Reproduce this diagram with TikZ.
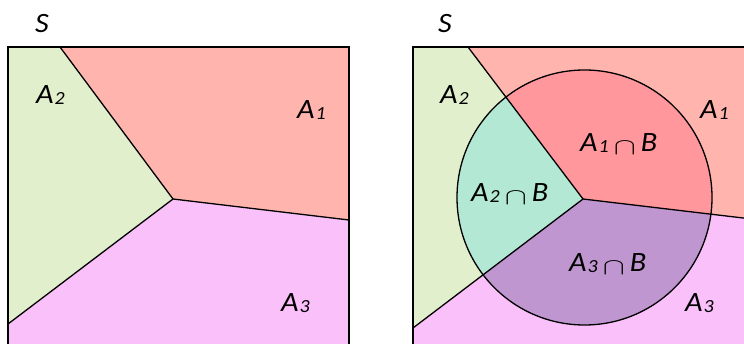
\documentclass[tikz,border=0pt]{standalone}
\usepackage{fontspec}
\setmainfont{Carlito}[FakeStretch=1.08]
\definecolor{cAone}{HTML}{FFB5AE}
\definecolor{cAtwo}{HTML}{E2EFCC}
\definecolor{cAthree}{HTML}{FAC0FA}
\definecolor{cBone}{HTML}{FF979D}
\definecolor{cBtwo}{HTML}{B3E8D5}
\definecolor{cBthree}{HTML}{BF96CF}
\newcommand{\Aset}[1]{A\kern1pt\raisebox{-1pt}{\fontsize{18.5}{20}\selectfont #1}}
\newcommand{\capB}{\kern5pt\raisebox{-3pt}{\resizebox{22pt}{13pt}{$\cap$}}\kern5pt B}
\begin{document}
\begin{tikzpicture}[x=1pt,y=-1pt,
  lbl/.style={anchor=base west,inner sep=0pt,font=\fontsize{28}{32}\selectfont\itshape},
  edge/.style={draw=black,line width=1.3pt,line join=round},
  frame/.style={draw=black,line width=1.7pt}]
\useasboundingbox (0,0) rectangle (744,344);
\clip (0,0) rectangle (744,344);
% ---------- left panel ----------
\coordinate (lt) at (60,47);
\coordinate (lc) at (173,199);
\coordinate (lr) at (349,220);
\coordinate (ll) at (8,324);
\fill[cAone] (lt) -- (349,47) -- (lr) -- (lc) -- cycle;
\fill[cAtwo] (8,47) -- (lt) -- (lc) -- (ll) -- cycle;
\fill[cAthree] (ll) -- (lc) -- (lr) -- (349,360) -- (8,360) -- cycle;
\draw[edge] (lt) -- (lc) -- (lr);
\draw[edge] (lc) -- (ll);
\draw[frame] (8,360) -- (8,47) -- (349,47) -- (349,360);
\node[lbl] (lS) at (35,33) {S};
\node[lbl] (lA2) at (36,104) {\Aset{2}};
\node[lbl] (lA1) at (297,119) {\Aset{1}};
\node[lbl] (lA3) at (281,312) {\Aset{3}};
% ---------- right panel ----------
\coordinate (rt) at (468,47);
\coordinate (rc) at (583,199);
\coordinate (rr) at (760,220);
\coordinate (rl) at (413,328);
\coordinate (bc) at (584.5,197.5);
\fill[cAone] (rt) -- (760,47) -- (rr) -- (rc) -- cycle;
\fill[cAtwo] (413,47) -- (rt) -- (rc) -- (rl) -- cycle;
\fill[cAthree] (rl) -- (rc) -- (rr) -- (760,360) -- (413,360) -- cycle;
\begin{scope}
  \clip (bc) circle[radius=127.5];
  \fill[cBone] (rt) -- (760,47) -- (rr) -- (rc) -- cycle;
  \fill[cBtwo] (413,47) -- (rt) -- (rc) -- (rl) -- cycle;
  \fill[cBthree] (rl) -- (rc) -- (rr) -- (760,360) -- (413,360) -- cycle;
\end{scope}
\draw[edge] (rt) -- (rc) -- (rr);
\draw[edge] (rc) -- (rl);
\draw[edge] (bc) circle[radius=127.5];
\draw[frame] (413,360) -- (413,47) -- (760,47);
\node[lbl] (rS) at (438,33) {S};
\node[lbl] (rA2) at (440,104) {\Aset{2}};
\node[lbl] (rA1) at (700,119) {\Aset{1}};
\node[lbl] (rA3) at (685,312) {\Aset{3}};
\node[lbl] (rB1) at (580,152) {\Aset{1}\capB};
\node[lbl] (rB2) at (471,202) {\Aset{2}\capB};
\node[lbl] (rB3) at (569,272) {\Aset{3}\capB};
\end{tikzpicture}
\end{document}
